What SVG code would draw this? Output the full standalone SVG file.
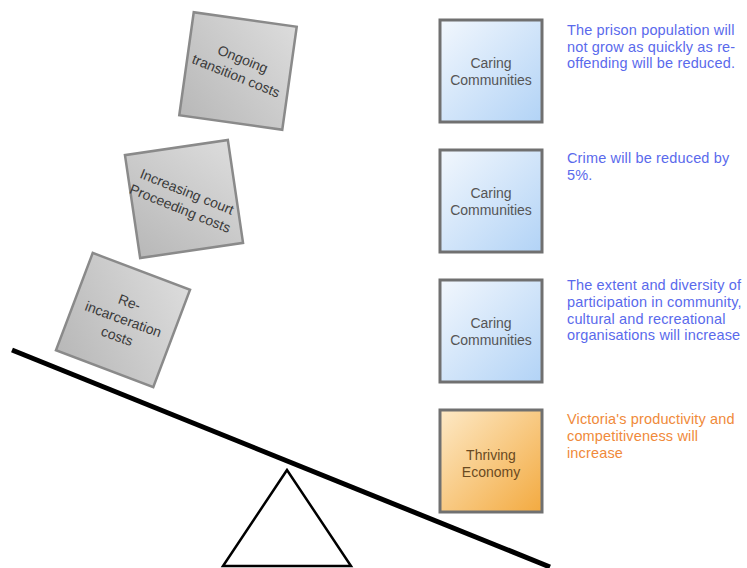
<svg xmlns="http://www.w3.org/2000/svg" width="747" height="568" viewBox="0 0 747 568">
<defs>
<linearGradient id="gGray" x1="1" y1="0" x2="0" y2="1"><stop offset="0" stop-color="#dcdcdc"/><stop offset="1" stop-color="#b8b8b8"/></linearGradient>
<linearGradient id="gBlue" x1="0" y1="0" x2="1" y2="1"><stop offset="0" stop-color="#f2f7fd"/><stop offset="1" stop-color="#b2d3f6"/></linearGradient>
<linearGradient id="gOrange" x1="0" y1="0" x2="1" y2="1"><stop offset="0" stop-color="#fde9c6"/><stop offset="1" stop-color="#f3aa40"/></linearGradient>
<style>
.cost{fill:url(#gGray);stroke:#8a8a8a;stroke-width:2.5}
.costt{font-family:"Liberation Sans",Arial,sans-serif;font-size:14px;fill:#3a3a3a;text-anchor:middle}
.box{stroke:#707070;stroke-width:3}
.boxt{font-family:"Liberation Sans",Arial,sans-serif;font-size:14px;fill:#555;text-anchor:middle}
.boxo{fill:#6a4a22}
.desc{font-family:"Liberation Sans",Arial,sans-serif;font-size:14.5px;letter-spacing:0.15px}
.blue{fill:#5a6aec}
.orange{fill:#f08a3a}
</style>
</defs>
<rect width="747" height="568" fill="#fff"/>
<g id="seesaw">
<polygon points="287,470 223,566 351,566" fill="#fff" stroke="#000" stroke-width="2.5"/>
<line x1="12" y1="350" x2="550" y2="567" stroke="#000" stroke-width="5"/>
</g>
<g id="cost1" transform="translate(238,71)">
<rect class="cost" x="-52" y="-52" width="104" height="104" transform="rotate(8)"/>
<g transform="rotate(22)"><text class="costt" x="0" y="-8">Ongoing</text><text class="costt" x="0" y="10">transition costs</text></g>
</g>
<g id="cost2" transform="translate(184,199)">
<rect class="cost" x="-52" y="-52" width="104" height="104" transform="rotate(-8.4)"/>
<g transform="rotate(22)"><text class="costt" x="0" y="-3">Increasing court</text><text class="costt" x="0" y="15">Proceeding costs</text></g>
</g>
<g id="cost3" transform="translate(123,320)">
<rect class="cost" x="-52" y="-52" width="104" height="104" transform="rotate(20.7)"/>
<g transform="rotate(20)"><text class="costt" x="0" y="-14">Re-</text><text class="costt" x="0" y="4">incarceration</text><text class="costt" x="0" y="22">costs</text></g>
</g>
<g id="box1">
<rect class="box" x="440" y="20" width="102" height="102" fill="url(#gBlue)"/>
<text class="boxt" x="491" y="68">Caring</text><text class="boxt" x="491" y="85">Communities</text>
<text class="desc blue" x="567" y="35">The prison population will</text>
<text class="desc blue" x="567" y="52">not grow as quickly as re-</text>
<text class="desc blue" x="567" y="68">offending will be reduced.</text>
</g>
<g id="box2">
<rect class="box" x="440" y="150" width="102" height="102" fill="url(#gBlue)"/>
<text class="boxt" x="491" y="198">Caring</text><text class="boxt" x="491" y="215">Communities</text>
<text class="desc blue" x="567" y="163">Crime will be reduced by</text>
<text class="desc blue" x="567" y="180">5%.</text>
</g>
<g id="box3">
<rect class="box" x="440" y="280" width="102" height="102" fill="url(#gBlue)"/>
<text class="boxt" x="491" y="328">Caring</text><text class="boxt" x="491" y="345">Communities</text>
<text class="desc blue" x="567" y="290">The extent and diversity of</text>
<text class="desc blue" x="567" y="307">participation in community,</text>
<text class="desc blue" x="567" y="324">cultural and recreational</text>
<text class="desc blue" x="567" y="340">organisations will increase</text>
</g>
<g id="box4">
<rect class="box" x="440" y="410" width="102" height="102" fill="url(#gOrange)"/>
<text class="boxt boxo" x="491" y="460">Thriving</text><text class="boxt boxo" x="491" y="477">Economy</text>
<text class="desc orange" x="567" y="424">Victoria's productivity and</text>
<text class="desc orange" x="567" y="441">competitiveness will</text>
<text class="desc orange" x="567" y="458">increase</text>
</g>
<g id="connectors"/>
</svg>
